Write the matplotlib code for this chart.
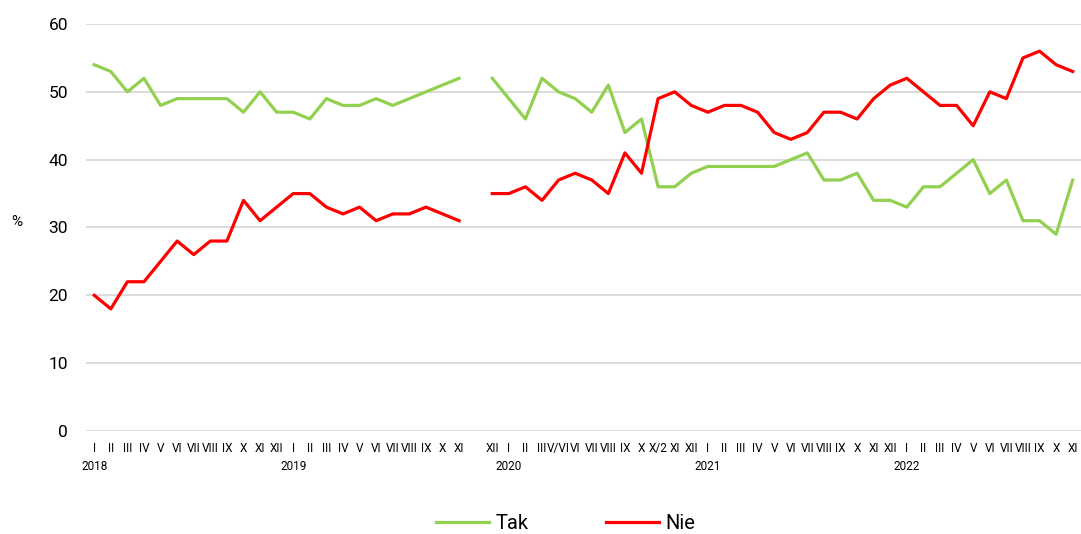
import numpy as np
import matplotlib.pyplot as plt
import matplotlib.transforms as mtransforms

plt.rcParams['font.family'] = ['Roboto', 'DejaVu Sans']

months = ["I", "II", "III", "IV", "V", "VI", "VII", "VIII", "IX", "X", "XI", "XII"]
labels = (months + months[:11] + [""]
          + ["XII", "I", "II", "III", "V/VI", "VI", "VII", "VIII", "IX", "X", "X/2", "XI", "XII"]
          + months + months[:11])

tak = [54, 53, 50, 52, 48, 49, 49, 49, 49, 47, 50, 47,
       47, 46, 49, 48, 48, 49, 48, 49, 50, 51, 52,
       np.nan,
       52, 49, 46, 52, 50, 49, 47, 51, 44, 46, 36, 36, 38,
       39, 39, 39, 39, 39, 40, 41, 37, 37, 38, 34, 34,
       33, 36, 36, 38, 40, 35, 37, 31, 31, 29, 37]

nie = [20, 18, 22, 22, 25, 28, 26, 28, 28, 34, 31, 33,
       35, 35, 33, 32, 33, 31, 32, 32, 33, 32, 31,
       np.nan,
       35, 35, 36, 34, 37, 38, 37, 35, 41, 38, 49, 50, 48,
       47, 48, 48, 47, 44, 43, 44, 47, 47, 46, 49, 51,
       52, 50, 48, 48, 45, 50, 49, 55, 56, 54, 53]

years = ["2018", "2019", "2020", "2021", "2022"]
year_pos = [0, 12, 25, 37, 49]


def main():
    fig = plt.figure(figsize=(10.81, 5.34), dpi=100)
    ax = fig.add_axes([0.0795, 0.193, 0.9205, 0.762])

    x = np.arange(len(labels))
    ax.plot(x, tak, color='#92D050', lw=2.3, label='Tak')
    ax.plot(x, nie, color='#FF0000', lw=2.3, label='Nie')

    ax.set_xlim(-0.5, len(labels) - 0.5)
    ax.set_ylim(0, 60)
    ax.set_yticks(range(0, 61, 10))
    ax.yaxis.grid(True, color='#D9D9D9', lw=1.3)
    ax.set_axisbelow(True)
    for s in ax.spines.values():
        s.set_visible(False)

    ax.set_xticks(x)
    ax.set_xticklabels(labels, fontsize=8.5, va='baseline')
    ax.tick_params(axis='both', length=0)
    ax.tick_params(axis='x', pad=15)
    ax.tick_params(axis='y', labelsize=12.5, pad=13)

    trans = mtransforms.blended_transform_factory(ax.transData, ax.transAxes)
    for yr, p in zip(years, year_pos):
        ax.text(p, -0.072, yr, transform=trans, ha='center', va='top', fontsize=8.5)

    fig.text(0.016, 0.585, '%', fontsize=11, ha='center', va='center')

    fig.legend(loc='center', bbox_to_anchor=(0.523, 0.02), ncol=2,
               frameon=False, fontsize=14.5, handlelength=2.65, handletextpad=0.3,
               columnspacing=3.85, borderpad=0.1)

    fig.savefig('out.png', dpi=100)


if __name__ == "__main__":
    main()
